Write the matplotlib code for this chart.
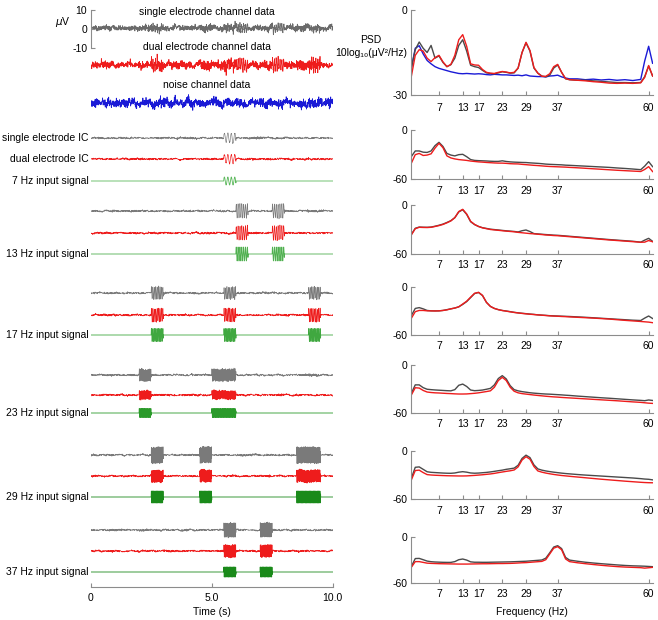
import numpy as np
import matplotlib.pyplot as plt

plt.rcParams['font.family'] = ['Liberation Sans', 'DejaVu Sans']
plt.rcParams['font.size'] = 7.5
plt.rcParams['axes.unicode_minus'] = False

# ---------------- data ----------------
# frequency grid of the PSD curves (Hz)
freqs = list(range(0, 41)) + [42, 44, 46, 48, 50, 52, 54, 56, 58, 59, 60, 61]
freq_ticks = [7, 13, 17, 23, 29, 37, 60]

# channel PSDs, dB (10log10(uV^2/Hz))
psd_single_ch = [-20.6, -14, -11.3, -13.5, -15, -12.5, -17, -16.2, -18.5, -20, -19.3, -17, -12.5, -10.5, -14.5,
                 -19.5, -20, -20.3, -21.3, -22.2, -22.4, -22.5, -22.2, -21.8, -22, -22.3, -22.2, -20.5, -15, -11.6,
                 -14.5, -20.5, -22.3, -23.3, -23.6, -23, -20.5, -19.4, -22, -24.3, -24.6,
                 -24.8, -24.8, -25, -25.2, -25.4, -25.6, -25.6, -25.7, -25.6, -23.5, -19.8, -23.3]
psd_dual_ch = [-23.5, -16, -14, -14.5, -17, -18.2, -16.8, -16, -18.3, -20, -19.2, -16, -10.5, -8.7, -12.8,
               -19, -19.4, -19.5, -21, -22, -22.3, -22.4, -22, -21.7, -21.9, -22.2, -22, -20.5, -15, -11.4,
               -14.3, -20.3, -22.3, -23.4, -23.4, -22.5, -20, -19.2, -22, -24.2, -24.6,
               -24.8, -25, -25.3, -25.5, -25.8, -25.9, -25.8, -25.9, -25.7, -23.8, -19.6, -23.3]
psd_noise_ch = [-20.6, -13.5, -12.6, -15.5, -17.8, -19, -20, -20.6, -21, -21.4, -21.8, -22.1, -22.4, -22.5, -22.4,
                -22.5, -22.6, -22.5, -22.6, -22.8, -22.9, -22.7, -22.8, -22.9, -22.9, -23.0, -23.1, -23.0, -23.2, -22.9,
                -23.3, -23.4, -23.5, -23.5, -23.6, -23.3, -23.2, -23.0, -23.6, -24.0, -24.3,
                -24.3, -24.6, -24.4, -24.7, -24.5, -24.8, -24.6, -24.9, -24.5, -18, -12.8, -18.8]

# IC PSDs (single electrode, dual electrode) for each input frequency
psd_single_ic = [
    [-32.4, -25.5, -25.5, -27, -27.3, -25.5, -19, -15, -20, -28.5, -30.5, -31.5, -30, -29.6, -32.5,
     -36, -37, -37.3, -37.5, -37.7, -38, -38.2, -38.2, -37.5, -38.3, -38.8, -39.1, -39.3, -39.5, -39.6,
     -40, -40.3, -40.6, -41, -41.5, -41.8, -42, -42.2, -42.4, -42.8, -43,
     -43.5, -44, -44.5, -45, -45.5, -46.2, -46.8, -47.5, -48.3, -44, -38.5, -44.6],
    [-36, -28.5, -27, -27.2, -27.3, -27, -26, -24.8, -23.4, -21.4, -19.2, -15.5, -8.5, -5.8, -11.5,
     -20.5, -24, -26.3, -27.8, -28.7, -29.6, -30.1, -30.6, -31.1, -31.6, -32, -32.4, -33, -31.5, -30.6,
     -32.5, -35, -35.4, -35.8, -36.2, -36.5, -36.9, -37.1, -37.5, -37.9, -38.3,
     -39.1, -39.9, -40.7, -41.5, -42.3, -43, -43.7, -44.4, -45.5, -43, -40.8, -44.5],
    [-36, -27, -26, -27.5, -29.5, -30, -30, -30, -29.5, -28.5, -27.5, -26.5, -25, -22, -18.5,
     -13.5, -8.5, -7.2, -11, -19.5, -24.5, -27, -28.5, -29.5, -30.2, -31, -31.8, -32.5, -33, -33.5,
     -34, -34.4, -35, -35.3, -35.6, -36, -36.2, -36.4, -36.6, -36.8, -37,
     -37.5, -38, -38.6, -39.2, -39.8, -40.4, -41, -41.6, -42, -39, -36.4, -39.5],
    [-35.7, -25, -25, -28.5, -30.5, -31, -31.4, -31.7, -32, -32.3, -32.5, -31, -25.5, -24, -27,
     -31.5, -32.3, -32, -31.5, -30.5, -29.4, -25, -17, -13.4, -17.5, -26, -31, -32.5, -33.5, -34.2,
     -34.9, -35.4, -35.8, -36.2, -36.5, -36.7, -37, -37.3, -37.6, -38, -38.3,
     -39.1, -39.8, -40.5, -41.2, -41.8, -42.5, -43.2, -43.9, -44.5, -44.9, -44, -44.6],
    [-34.1, -20.5, -20, -23, -26, -26.7, -27, -27.3, -27.6, -27.8, -27.9, -27.5, -26.5, -25.9, -26.5,
     -27.5, -27.8, -27.6, -27.2, -26.8, -26.2, -25.5, -24.7, -24, -23, -22.3, -21.5, -18, -9.5, -5.5,
     -8.5, -17.5, -22.5, -24, -25, -25.8, -26.5, -27.1, -27.7, -28.2, -28.6,
     -29.4, -30.1, -30.7, -31.3, -31.9, -32.5, -33.1, -33.7, -34.5, -35, -35.3, -36],
    [-39.1, -28.5, -28.3, -30, -31.8, -32.6, -33, -33.2, -33.4, -33.5, -33.5, -32.5, -30, -29.1, -30.5,
     -32.8, -33.3, -33.3, -33.4, -33.4, -33.3, -33.2, -33.1, -33, -32.9, -32.8, -32.6, -32.4, -32.2, -32,
     -31.6, -31.2, -30.8, -30.4, -28, -21, -13.5, -11.7, -15.5, -27, -30.5,
     -32, -33.3, -34.3, -35.2, -36, -36.8, -37.5, -38, -38.3, -38.5, -38.8, -39.1],
]
psd_dual_ic = [
    [-40.5, -30, -28.5, -31, -30.5, -29, -22, -16.2, -21.5, -31.5, -34, -35.2, -36, -36.5, -37,
     -37.8, -38.3, -38.8, -39.1, -39.5, -39.8, -40.1, -40.3, -40.3, -40.6, -41, -41.2, -41.3, -41.8, -42.2,
     -42.6, -43, -43.3, -43.7, -44.1, -44.4, -44.6, -44.8, -45, -45.2, -45.5,
     -46, -46.6, -47.2, -47.8, -48.4, -49, -49.5, -50, -50.5, -48, -44.6, -50.6],
    [-36.7, -29, -27.3, -27.5, -27.6, -27.3, -26.3, -25.2, -23.8, -21.8, -19.5, -15.5, -8, -5.3, -11,
     -20, -23.8, -26.3, -28, -29, -30, -30.5, -31, -31.5, -32, -32.4, -32.8, -33.5, -34, -34.5,
     -35, -35.3, -35.8, -36.2, -36.7, -37, -37.4, -37.6, -38, -38.4, -38.8,
     -39.6, -40.4, -41.2, -42, -42.8, -43.5, -44.2, -44.9, -45.6, -45.5, -43.5, -45],
    [-39.3, -31, -29.5, -29.5, -30, -30, -30.2, -30, -29.5, -28.8, -27.5, -26.5, -25, -21.5, -18,
     -13, -8.2, -7, -10.8, -19.5, -24.5, -27, -28.5, -29.6, -30.4, -31.2, -32, -32.6, -33.2, -33.7,
     -34.2, -34.6, -35, -35.4, -35.8, -36.2, -36.5, -36.7, -37, -37.2, -37.5,
     -38, -38.5, -39, -39.6, -40.2, -41, -41.8, -42.5, -43.2, -43.6, -44, -44.7],
    [-37.8, -28.6, -29, -32, -34, -34.6, -35, -35.2, -35.5, -35.8, -36, -36.3, -36.5, -36.5, -36.4,
     -36, -35.6, -35, -34.2, -33.4, -32.5, -28, -19.5, -15.5, -19.5, -28, -33, -35, -36, -36.6,
     -37.2, -37.8, -38.3, -38.8, -39.3, -39.7, -40.1, -40.4, -40.8, -41.1, -41.4,
     -42, -42.6, -43.2, -43.8, -44.4, -45, -45.7, -46.4, -47, -47.5, -48, -48.3],
    [-36.2, -24.5, -24, -27, -29.5, -30, -30.3, -30.5, -30.7, -30.9, -31, -31.1, -31.2, -31.2, -31.1,
     -30.8, -30.5, -30.1, -29.7, -29.2, -28.7, -28, -27.1, -26.3, -25.5, -24.8, -23.8, -20, -11.5, -7.4,
     -10.5, -19.5, -25, -26.5, -27.6, -28.5, -29.3, -30, -30.6, -31.1, -31.6,
     -32.5, -33.4, -34.3, -35.2, -36, -36.8, -37.6, -38.3, -39, -39.3, -39.5, -39.6],
    [-40, -32.5, -32.5, -33.5, -34.5, -34.8, -35, -35.2, -35.3, -35.4, -35.5, -35.6, -35.7, -35.7, -35.7,
     -35.6, -35.5, -35.4, -35.3, -35.3, -35.2, -35.1, -35, -35, -34.9, -34.8, -34.6, -34.3, -34, -33.8,
     -33.4, -33, -32.6, -32.2, -30, -22.5, -15, -13, -17, -29, -32.5,
     -34, -35.2, -36.3, -37.3, -38.2, -39, -39.6, -40, -40.4, -41, -40.5, -40],
]

# input signals: frequency and burst intervals (s)
input_freqs = [7, 13, 17, 23, 29, 37]
burst_spans = [
    [(5.5, 6.0)],
    [(6.0, 6.5), (7.5, 8.0)],
    [(2.5, 3.0), (5.5, 6.0), (9.0, 9.5)],
    [(2.0, 2.5), (5.0, 6.0)],
    [(2.5, 3.0), (4.5, 5.0), (8.5, 9.5)],
    [(5.5, 6.0), (7.0, 7.5)],
]

# ---------------- style / layout ----------------
W, H = 658, 620
GRAY_AX = '#8c8c8c'
C_GRAY, C_RED, C_BLUE = '#6a6a6a', '#ee1c1c', '#1a1ad6'
greens = ['#5cb85c', '#4fb04f', '#40a840', '#2a9a2a', '#1a8a1a', '#1a8a1a']

# burst half-heights (px) of single IC, dual IC and input traces
amp_single = [5, 7, 6, 6, 8, 7]
amp_dual = [4.5, 7, 6.5, 4.3, 6, 6]
amp_input = [4, 7, 6.5, 4.5, 6, 5]
mix_single = [1.5, 3.5, 1.5, 1.0, 1.8, 1.2]
mix_dual = [2.0, 5.5, 3.0, 1.5, 3.0, 2.0]

top_rows = [28, 65, 103]
group_rows = [(138, 159, 181), (211, 233, 254), (293, 315, 335),
              (375, 395, 413), (455, 476, 497), (530, 551, 572)]
psd_rows = [(10, 95), (130, 179.3), (205, 254), (286.7, 335),
            (365, 412.7), (450.7, 499.3), (536.7, 582.7)]

fs = 400
t = np.arange(0, 10, 1 / fs)


def px_axes(fig, x0, y0, x1, y1):
    return fig.add_axes([x0 / W, 1 - y1 / H, (x1 - x0) / W, (y1 - y0) / H])


def background(seed):
    # deterministic multisine with the noise-channel spectrum
    fk = np.arange(0.1, 61, 0.1)
    amp = np.sqrt(10 ** (np.interp(fk, freqs, psd_noise_ch) / 10))
    k = np.arange(fk.size) + seed * 997
    ph = 2 * np.pi * np.mod(np.sin(k * 12.9898) * 43758.5453, 1.0)
    sig = (amp[:, None] * np.sin(2 * np.pi * fk[:, None] * t + ph[:, None])).sum(axis=0)
    return sig / sig.std()


def bursts(f, spans):
    y = np.zeros_like(t)
    for a, b in spans:
        m = (t >= a) & (t <= b)
        y[m] = np.sin(2 * np.pi * f * (t[m] - a) + 0.5)
    return y


sources = [bursts(f, s) for f, s in zip(input_freqs, burst_spans)]

fig = plt.figure(figsize=(W / 100, H / 100), dpi=100)

# ---------- left column: time series ----------
ax = px_axes(fig, 90.7, 0, 332.7, 587)
ax.set_xlim(0, 10)
ax.set_ylim(587, 0)
for s in ['top', 'right', 'left']:
    ax.spines[s].set_visible(False)
ax.spines['bottom'].set_color(GRAY_AX)
ax.spines['bottom'].set_linewidth(0.8)
ax.set_yticks([])
ax.set_xticks([0, 5, 10])
ax.set_xticklabels(['0', '5.0', '10.0'])
ax.tick_params(axis='x', direction='in', length=3, color=GRAY_AX, pad=4.5)
ax.patch.set_visible(False)
ax.text(5, 612, 'Time (s)', ha='center', va='center', clip_on=False)

single_ch = 1.3 * background(1) + sum(w * s for w, s in zip(mix_single, sources))
dual_ch = 1.6 * background(2) + sum(w * s for w, s in zip(mix_dual, sources))
noise_ch = 2.2 * background(3)
for y0, sig, c, title, ty in [(top_rows[0], single_ch, C_GRAY, 'single electrode channel data', 11.7),
                              (top_rows[1], dual_ch, C_RED, 'dual electrode channel data', 46.7),
                              (top_rows[2], noise_ch, C_BLUE, 'noise channel data', 85)]:
    ax.plot(t, y0 - sig, color=c, lw=0.55)
    ax.text(4.8, ty, title, ha='center', va='center')

for i, (ys, yd, yi) in enumerate(group_rows):
    src = sources[i]
    ax.plot(t, ys - (0.45 * background(10 + i) + amp_single[i] * src), color='#7a7a7a', lw=0.45)
    ax.plot(t, yd - (0.45 * background(20 + i) + amp_dual[i] * src), color=C_RED, lw=0.45)
    ax.plot(t, yi - amp_input[i] * src, color=greens[i], lw=0.6)
    ax.text(-0.1, yi, f'{input_freqs[i]} Hz input signal', ha='right', va='center', clip_on=False)
    if i == 0:
        ax.text(-0.1, ys, 'single electrode IC', ha='right', va='center', clip_on=False)
        ax.text(-0.1, yd, 'dual electrode IC', ha='right', va='center', clip_on=False)

# uV scale bar
sc = px_axes(fig, 90.7, 10, 91.7, 48)
sc.set_ylim(-10, 10)
sc.set_yticks([-10, 0, 10])
sc.set_xticks([])
for s in ['top', 'right', 'bottom']:
    sc.spines[s].set_visible(False)
sc.spines['left'].set_color(GRAY_AX)
sc.spines['left'].set_linewidth(0.8)
sc.tick_params(axis='y', direction='in', length=3, color=GRAY_AX, pad=2.5)
sc.patch.set_visible(False)
fig.text(62.5 / W, 1 - 21.7 / H, r'$\mu$V', ha='center', va='center')

# ---------- right column: PSDs ----------
for p, (y0, y1) in enumerate(psd_rows):
    a = px_axes(fig, 411.3, y0, 652.6, y1)
    a.set_xlim(0, 61)
    if p == 0:
        a.plot(freqs, psd_noise_ch, color=C_BLUE, lw=1.0)
        a.plot(freqs, psd_single_ch, color='#4a4a4a', lw=1.0)
        a.plot(freqs, psd_dual_ch, color=C_RED, lw=1.0)
        a.set_ylim(-30, 0)
        a.set_yticks([-30, 0])
        xpad = 5.5
    else:
        a.plot(freqs, psd_single_ic[p - 1], color='#4a4a4a', lw=1.0)
        a.plot(freqs, psd_dual_ic[p - 1], color=C_RED, lw=1.0)
        a.set_ylim(-60, 0)
        a.set_yticks([-60, 0])
        xpad = 4.5
    a.set_xticks(freq_ticks)
    for s in ['top', 'right']:
        a.spines[s].set_visible(False)
    for s in ['left', 'bottom']:
        a.spines[s].set_color(GRAY_AX)
        a.spines[s].set_linewidth(0.8)
    a.tick_params(direction='in', length=3, color=GRAY_AX)
    a.tick_params(axis='x', pad=xpad)
    a.tick_params(axis='y', pad=3)
    a.patch.set_visible(False)

fig.text(371 / W, 1 - 40 / H, 'PSD', ha='center', va='center')
fig.text(371 / W, 1 - 53 / H, '10log\u2081\u2080(\u03bcV\u00b2/Hz)', ha='center', va='center')
fig.text(532 / W, 1 - 612 / H, 'Frequency (Hz)', ha='center', va='center')

fig.savefig('out.png', dpi=100)
